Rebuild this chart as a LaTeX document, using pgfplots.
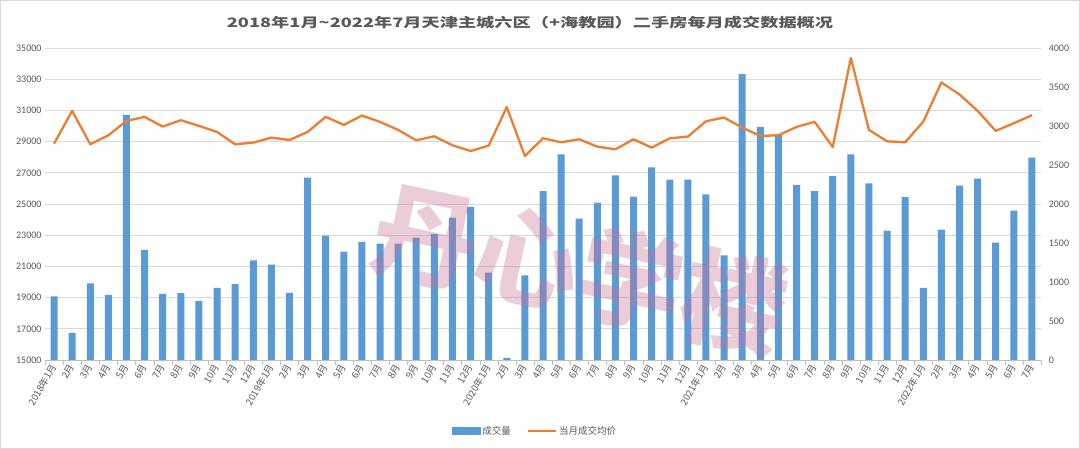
\documentclass[border=0pt]{standalone}
\usepackage{pgfplots}
\pgfplotsset{compat=1.18}
\usepackage{fontspec}
\setmainfont{Carlito}
\newfontfamily\cjk{Noto Sans CJK SC}
\definecolor{barc}{HTML}{5B9BD5}
\definecolor{linec}{HTML}{ED7D31}
\definecolor{txt}{HTML}{595959}
\definecolor{gridc}{HTML}{D9D9D9}
\definecolor{axc}{HTML}{BFBFBF}
\definecolor{wm}{RGB}{200,112,150}
\pgfplotstableread{
x y
0 815
1 343
2 982
3 836
4 3143
5 1411
6 849
7 857
8 759
9 926
10 973
11 1278
12 1222
13 862
14 2337
15 1595
16 1389
17 1513
18 1492
19 1492
20 1569
21 1616
22 1826
23 1964
24 1119
25 26
26 1085
27 2165
28 2637
29 1813
30 2019
31 2367
32 2096
33 2469
34 2311
35 2311
36 2122
37 1342
38 3666
39 2988
40 2885
41 2246
42 2165
43 2358
44 2637
45 2264
46 1659
47 2088
48 926
49 1672
50 2234
51 2324
52 1505
53 1916
54 2594
}\volume
\pgfplotstableread{
x y
0 28869
1 30970
2 28826
3 29405
4 30327
5 30584
6 29963
7 30370
8 30005
9 29620
10 28826
11 28934
12 29255
13 29105
14 29620
15 30584
16 30070
17 30670
18 30263
19 29748
20 29084
21 29341
22 28762
23 28398
24 28741
25 31206
26 28076
27 29212
28 28955
29 29148
30 28676
31 28505
32 29148
33 28612
34 29212
35 29319
36 30305
37 30541
38 29898
39 29362
40 29405
41 29941
42 30263
43 28655
44 34357
45 29748
46 29019
47 28955
48 30284
49 32792
50 32021
51 30970
52 29684
53 30177
54 30691
}\price
\pgfplotsset{
  common/.style={
    at={(45pt,89pt)}, anchor=south west, width=996pt, height=312pt, scale only axis,
    xmin=-0.5, xmax=54.5,
    /pgf/number format/assume math mode=true, /pgf/number format/1000 sep={},
    scaled y ticks=false,
    yticklabel style={font=\fontsize{10}{10}\selectfont, text=txt},
  }
}
\begin{document}
\begin{tikzpicture}[x=1pt,y=1pt]
\useasboundingbox (0,0) rectangle (1080,449);
\fill[white] (0,0) rectangle (1080,449);
\draw[gridc, line width=1pt] (0.5,0.5) rectangle (1079.5,448.5);
\node[text=txt, font=\cjk\bfseries\fontsize{13}{13}\selectfont, xscale=1.4] at (530,426) {2018年1月\textasciitilde 2022年7月天津主城六区（+海教园）二手房每月成交数据概况};
% left axis with grid
\begin{axis}[common,
  ymin=15000, ymax=35000,
  axis x line=none, axis y line*=left,
  y axis line style={draw=none},
  ytick={15000,17000,...,35000}, y tick style={draw=none},
  ymajorgrids, major grid style={gridc, line width=0.8pt},
]
\addplot[draw=none, forget plot] coordinates {(0,15000)};
\end{axis}
% bars, right axis
\begin{axis}[common,
  ymin=0, ymax=4000,
  axis x line*=bottom, axis y line*=right,
  x axis line style={draw=axc, -},
  y axis line style={draw=none},
  xtick={0,...,54},
  xticklabels={2018年1月,2月,3月,4月,5月,6月,7月,8月,9月,10月,11月,12月,2019年1月,2月,3月,4月,5月,6月,7月,8月,9月,10月,11月,12月,2020年1月,2月,3月,4月,5月,6月,7月,8月,9月,10月,11月,12月,2021年1月,2月,3月,4月,5月,6月,7月,8月,9月,10月,11月,12月,2022年1月,2月,3月,4月,5月,6月,7月},
  major x tick style={draw=none},
  minor xtick={-0.5,0.5,...,54.5},
  minor x tick style={draw=axc},
  tick align=outside, minor tick length=5pt,
  ytick={0,500,...,4000}, y tick style={draw=none},
  ybar, bar width=7pt,
  xticklabel style={rotate=60, anchor=east, font=\cjk\fontsize{9.5}{10}\selectfont, text=txt, inner sep=1pt},
]
\addplot[fill=barc, draw=none] table[x=x,y=y] {\volume};
\end{axis}
% line, left scale, legend
\begin{axis}[common,
  ymin=15000, ymax=35000,
  hide x axis, hide y axis,
  legend style={at={(0.492,-0.228)}, anchor=center, draw=none, fill=none,
    font=\cjk\fontsize{9.5}{10}\selectfont, text=txt,
    /tikz/every even column/.append style={column sep=14pt}},
  legend columns=2, legend cell align=left,
]
\addlegendimage{legend image code/.code={\fill[barc] (0pt,-3.5pt) rectangle (28pt,3.5pt);}}
\addlegendentry{成交量}
\addplot[linec, line width=2.3pt, line join=round, mark=none,
  legend image code/.code={\draw[linec, line width=2.3pt] (0pt,0pt) -- (28pt,0pt);}]
  table[x=x,y=y] {\price};
\addlegendentry{当月成交均价}
\end{axis}
\node[rotate=-12, text=wm, opacity=0.35, font=\cjk\bfseries\fontsize{105}{105}\selectfont] at (580,180) {丹心学楼};
\end{tikzpicture}
\end{document}
